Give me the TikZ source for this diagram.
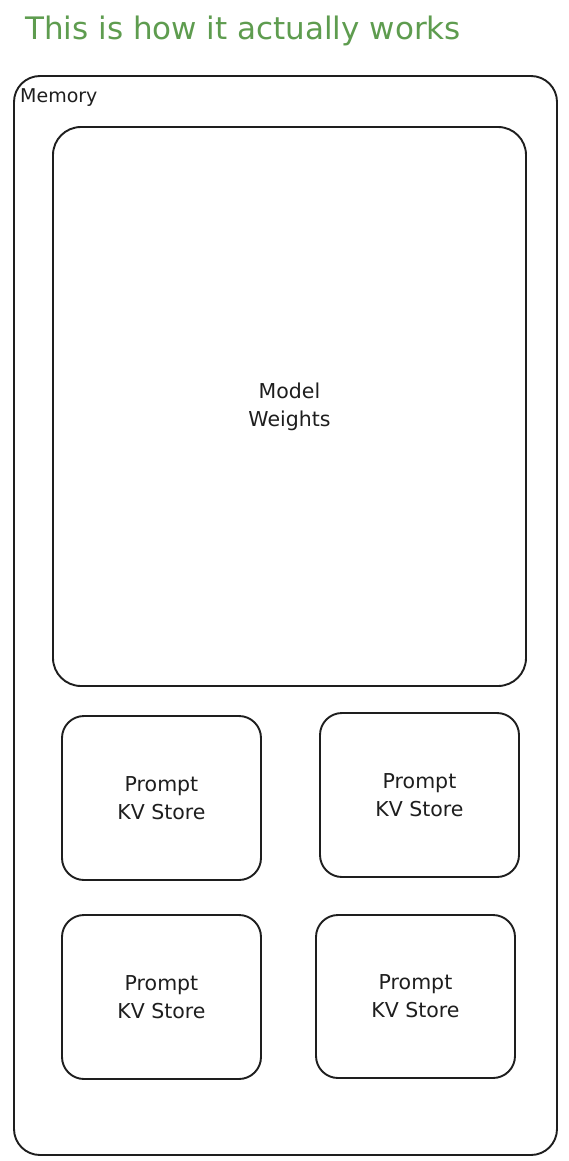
\documentclass[tikz,border=0pt]{standalone}
\usepackage{fontspec}
\setmainfont{DejaVu Sans}
\definecolor{ink}{HTML}{1E1E1E}
\definecolor{titlegreen}{RGB}{94,156,79}
\tikzset{
  sketchbox/.style={draw=ink, line width=1.9pt, rounded corners=22pt, fill=white},
  boxlabel/.style={align=center, text=ink, font=\fontsize{20.5}{28}\selectfont},
}
\begin{document}
\begin{tikzpicture}[x=1pt,y=-1pt]
\useasboundingbox (0,0) rectangle (569,1161);
\node[anchor=base west, inner sep=0pt, text=titlegreen, font=\fontsize{31}{36}\selectfont] (title) at (25,40) {This is how it actually works};
\node[sketchbox, rounded corners=26pt, minimum width=543pt, minimum height=1079pt, inner sep=0pt] (memory) at (285.5,615.5) {};
\node[anchor=base west, inner sep=0pt, text=ink, font=\fontsize{19}{24}\selectfont] (memlabel) at (20,103) {Memory};
\node[sketchbox, rounded corners=28pt, minimum width=473pt, minimum height=559pt, boxlabel] (weights) at (289.5,406.5) {Model\\Weights};
\node[sketchbox, minimum width=199pt, minimum height=164pt, boxlabel] (kv1) at (161.5,798) {Prompt\\KV Store};
\node[sketchbox, minimum width=199pt, minimum height=164pt, boxlabel] (kv2) at (419.5,795) {Prompt\\KV Store};
\node[sketchbox, minimum width=199pt, minimum height=164pt, boxlabel] (kv3) at (161.5,997) {Prompt\\KV Store};
\node[sketchbox, minimum width=199pt, minimum height=163pt, boxlabel] (kv4) at (415.5,996.5) {Prompt\\KV Store};
\end{tikzpicture}
\end{document}
